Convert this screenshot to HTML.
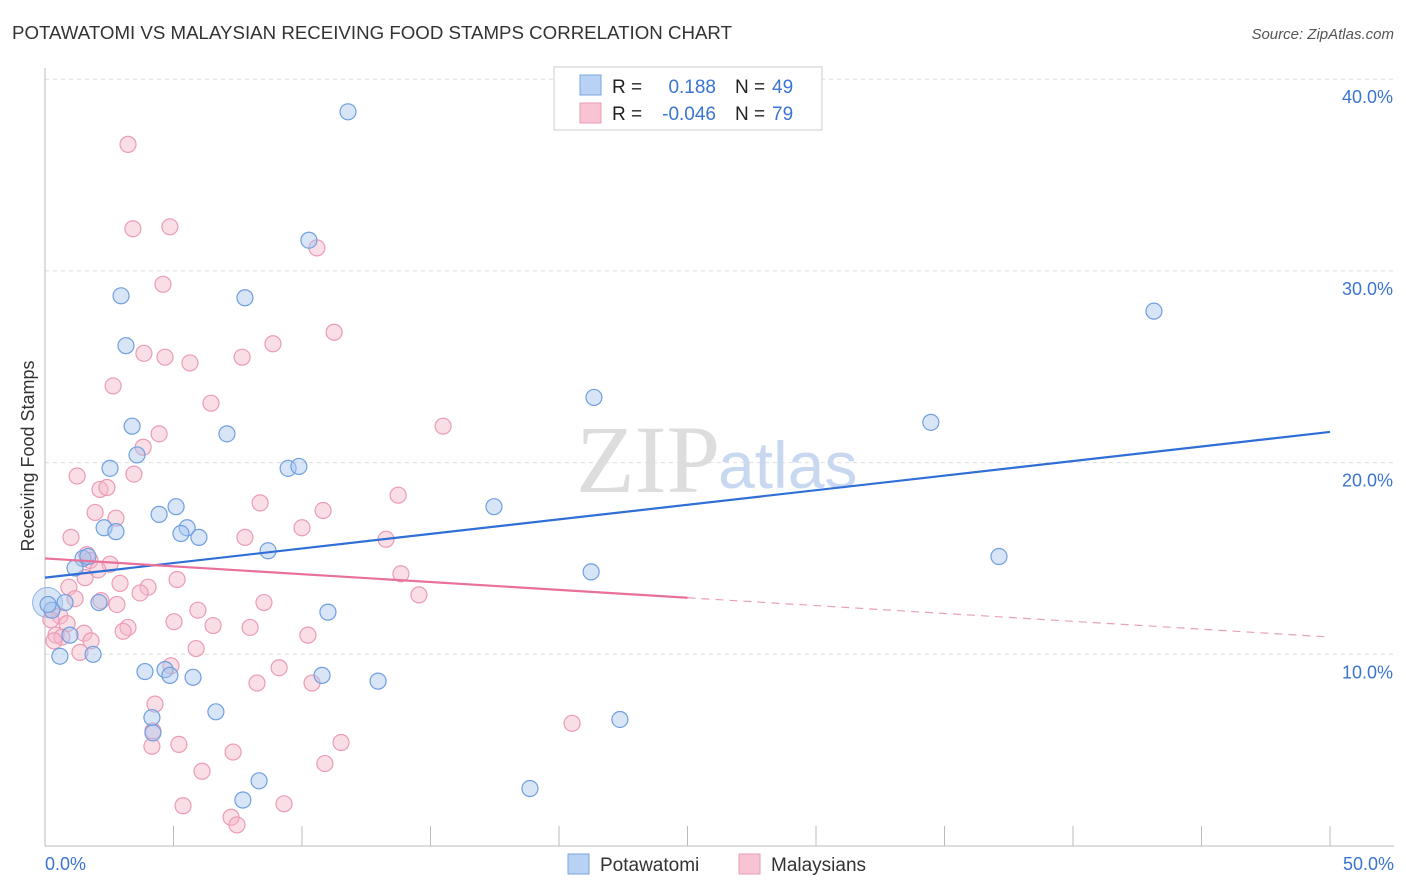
<!DOCTYPE html>
<html><head><meta charset="utf-8"><style>
body{margin:0;background:#fff;font-family:"Liberation Sans",sans-serif;}
svg{display:block}
</style></head><body>
<svg id="chart" width="1406" height="892">
<text x="12" y="39" font-size="18" fill="#333" textLength="720" lengthAdjust="spacingAndGlyphs">POTAWATOMI VS MALAYSIAN RECEIVING FOOD STAMPS CORRELATION CHART</text>
<text x="1394" y="39" font-size="15" fill="#555" font-style="italic" text-anchor="end">Source: ZipAtlas.com</text>
<text x="34" y="456" font-size="18" fill="#333" text-anchor="middle" transform="rotate(-90 34 456)">Receiving Food Stamps</text>
<g id="grid"></g>
<text x="720" y="492" font-size="96" fill="#ddd" text-anchor="end" font-family="Liberation Serif,serif">ZIP</text>
<text x="718" y="488" font-size="66" fill="#c8d8f0">atlas</text>
<g id="pts"></g>
<g id="trend"></g>
<g>
<rect x="554" y="67" width="268" height="63" fill="#fff" stroke="#ccc"/>
<rect x="580" y="75" width="21" height="20" fill="#b9d1f3" stroke="#7aa6e3"/>
<rect x="580" y="103" width="21" height="20" fill="#f8c4d3" stroke="#eb9bb5"/>
<text x="612" y="93" font-size="19" fill="#222">R =</text>
<text x="716" y="93" font-size="19" fill="#3b74d1" text-anchor="end">0.188</text>
<text x="735" y="93" font-size="19" fill="#222">N =</text>
<text x="772" y="93" font-size="19" fill="#3b74d1">49</text>
<text x="612" y="120" font-size="19" fill="#222">R =</text>
<text x="716" y="120" font-size="19" fill="#3b74d1" text-anchor="end">-0.046</text>
<text x="735" y="120" font-size="19" fill="#222">N =</text>
<text x="772" y="120" font-size="19" fill="#3b74d1">79</text>
</g>
<g>
<rect x="568" y="854" width="21" height="20" fill="#b9d1f3" stroke="#7aa6e3"/>
<text x="600" y="871" font-size="19" fill="#333">Potawatomi</text>
<rect x="739" y="854" width="21" height="20" fill="#f8c4d3" stroke="#eb9bb5"/>
<text x="771" y="871" font-size="19" fill="#333">Malaysians</text>
</g>
</svg>
<script>
const yTicks=[10,20,30,40];
const blueX=[11.79,10.27,2.96,7.78,3.15,43.15,21.36,34.47,3.39,7.08,3.58,2.53,9.46,9.88,17.47,5.10,4.44,2.30,2.76,5.53,5.29,5.99,8.68,37.12,1.48,1.67,1.17,21.25,0.78,2.10,0.27,0.12,11.01,0.97,0.58,1.87,3.89,4.67,4.86,5.76,10.78,12.96,6.65,4.16,4.20,22.37,8.33,7.70,18.87];
const blueY=[38.3,31.6,28.7,28.6,26.1,27.9,23.4,22.1,21.9,21.5,20.4,19.7,19.7,19.8,17.7,17.7,17.3,16.6,16.4,16.6,16.3,16.1,15.4,15.1,15.0,15.1,14.5,14.3,12.7,12.7,12.3,12.6,12.2,11.0,9.9,10.0,9.1,9.2,8.9,8.8,8.9,8.6,7.0,6.7,5.9,6.6,3.4,2.4,3.0];
const pinkX=[3.23,3.42,4.86,10.58,4.59,11.25,8.87,3.85,4.67,5.64,7.67,2.65,6.46,15.49,4.44,3.82,1.25,3.46,2.14,2.41,13.74,8.37,10.82,1.95,2.76,1.01,10.0,7.78,13.27,1.63,1.75,2.53,2.06,1.56,13.85,5.14,2.92,0.93,4.01,3.70,14.55,1.17,2.18,2.80,8.52,5.95,0.58,0.86,5.02,0.23,6.54,3.23,7.98,3.04,1.52,0.43,0.66,0.35,1.79,10.23,1.36,5.88,4.90,9.11,8.25,10.39,4.28,4.20,20.51,11.52,5.21,4.16,7.32,10.89,6.11,5.37,9.30,7.24,7.47];
const pinkY=[36.6,32.2,32.3,31.2,29.3,26.8,26.2,25.7,25.5,25.2,25.5,24.0,23.1,21.9,21.5,20.8,19.3,19.4,18.6,18.7,18.3,17.9,17.5,17.4,17.1,16.1,16.6,16.1,16.0,15.2,14.9,14.7,14.4,14.0,14.2,13.9,13.7,13.5,13.5,13.2,13.1,12.9,12.8,12.6,12.7,12.3,12.0,11.6,11.7,11.8,11.5,11.4,11.4,11.2,11.1,11.0,10.9,10.7,10.7,11.0,10.1,10.3,9.4,9.3,8.5,8.5,7.4,6.0,6.4,5.4,5.3,5.2,4.9,4.3,3.9,2.1,2.2,1.5,1.1];
const blueTrend=[14.0,21.6];
const pinkTrend=[15.0,10.9];
const NS="http://www.w3.org/2000/svg";
const sx=v=>45+v/50*1285, sy=v=>846-v*19.17;
function mk(t,a,p){const e=document.createElementNS(NS,t);for(const k in a)e.setAttribute(k,a[k]);p.appendChild(e);return e;}
const g=document.getElementById('grid');
yTicks.forEach(t=>{const l=mk('line',{x1:45,x2:1394,y1:sy(t),y2:sy(t),stroke:'#ddd','stroke-dasharray':'4,4'},g);


const tx=mk('text',{x:1393,y:sy(t)+24,'font-size':18,fill:'#3b74d1','text-anchor':'end'},g);tx.textContent=t.toFixed(1)+'%';

});
mk('line',{x1:45,x2:45,y1:68,y2:846,stroke:'#bbb'},g);
mk('line',{x1:45,x2:1394,y1:846,y2:846,stroke:'#bbb'},g);
for(let i=0;i<=10;i++){mk('line',{x1:sx(i*5),x2:sx(i*5),y1:826,y2:846,stroke:'#bbb'},g);}
const x0=mk('text',{x:45,y:870,'font-size':18,fill:'#3b74d1'},g);x0.textContent='0.0%';


const x1=mk('text',{x:1394,y:870,'font-size':18,fill:'#3b74d1','text-anchor':'end'},g);x1.textContent='50.0%';


const p=document.getElementById('pts');
const big=mk('circle',{cx:sx(0.1),cy:sy(12.7),r:15,fill:'rgba(169,198,238,0.45)',stroke:'#8fb3e6'},p);


pinkX.forEach((x,i)=>{const c=mk('circle',{cx:sx(x),cy:sy(pinkY[i]),r:8,fill:'rgba(244,182,200,0.45)',stroke:'#eb9bb5','stroke-width':1.2},p);

});
blueX.forEach((x,i)=>{const c=mk('circle',{cx:sx(x),cy:sy(blueY[i]),r:8,fill:'rgba(169,198,238,0.45)',stroke:'#6f9fe0','stroke-width':1.2},p);

});
const tr=document.getElementById('trend');
const bl=mk('line',{x1:sx(0),y1:sy(blueTrend[0]),x2:sx(50),y2:sy(blueTrend[1]),stroke:'#2f6fd6','stroke-width':2.2},tr);


const pm=pinkTrend[0]+(pinkTrend[1]-pinkTrend[0])*0.5;
const pl=mk('line',{x1:sx(0),y1:sy(pinkTrend[0]),x2:sx(25),y2:sy(pm),stroke:'#e8709a','stroke-width':2.2},tr);


const pd=mk('line',{x1:sx(25),y1:sy(pm),x2:sx(50),y2:sy(pinkTrend[1]),stroke:'#e8a0b8','stroke-width':1.2,'stroke-dasharray':'8,6'},tr);


</script>
</body></html>
